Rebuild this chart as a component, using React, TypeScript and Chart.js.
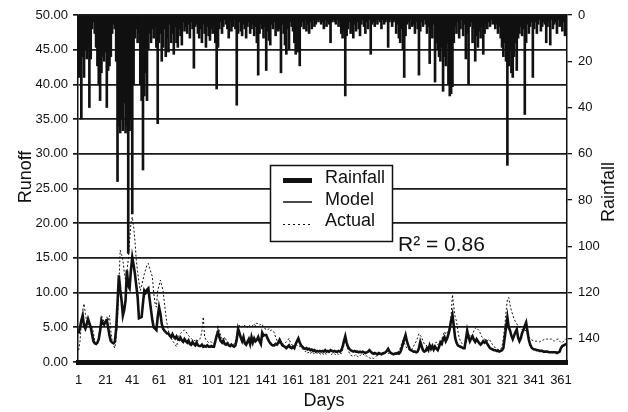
import React, { useEffect, useRef } from "react";
import { Chart, registerables } from "chart.js";

Chart.register(...registerables);

const FONT = "'Liberation Sans', Arial, sans-serif";

const days: number[] = Array.from({ length: 365 }, (_, i) => i + 1);
const tickDays = [1, 21, 41, 61, 81, 101, 121, 141, 161, 181, 201, 221, 241, 261, 281, 301, 321, 341, 361];
const rainfallTicks = [0, 20, 40, 60, 80, 100, 120, 140];

const rainfall = [
  27, 12, 45, 18, 27, 15, 19, 14, 40, 19,
  6, 3, 8, 14, 22, 30, 37, 25, 18, 20,
  16, 40, 24, 22, 18, 8, 4, 6, 20, 72,
  48, 51, 45, 50, 38, 51, 48, 103, 50, 45,
  86, 30, 10, 6, 12, 8, 30, 37, 67, 35,
  25, 37, 15, 8, 12, 6, 10, 5, 14, 47,
  12, 8, 20, 14, 6, 18, 10, 16, 4, 12,
  8, 17, 5, 12, 14, 6, 9, 13, 3, 7,
  5, 8, 4, 10, 3, 6, 23, 5, 4, 8,
  10, 6, 12, 4, 8, 14, 5, 9, 11, 6,
  8, 4, 12, 32, 14, 6, 3, 8, 5, 2,
  4, 6, 10, 3, 7, 5, 2, 6, 39, 8,
  3, 7, 9, 4, 6, 10, 5, 3, 8, 6,
  4, 9, 5, 12, 26, 8, 4, 6, 10, 5,
  24, 7, 11, 13, 4, 6, 3, 9, 5, 7,
  6, 25, 4, 8, 13, 17, 6, 15, 3, 5,
  7, 12, 17, 14, 16, 22, 5, 3, 6, 2,
  7, 4, 8, 3, 6, 2, 5, 4, 2, 3,
  2, 4, 3, 6, 2, 5, 3, 4, 12, 3,
  2, 3, 4, 2, 5, 3, 8, 10, 7, 35,
  9, 6, 3, 8, 5, 10, 4, 7, 3, 6,
  9, 4, 2, 5, 8, 3, 6, 2, 17, 4,
  3, 5, 2, 4, 2, 3, 6, 2, 4, 3,
  2, 14, 3, 2, 5, 3, 2, 8, 4, 10,
  12, 6, 15, 27, 9, 4, 3, 6, 2, 5,
  4, 8, 3, 6, 26, 7, 3, 5, 2, 4,
  8, 5, 21, 6, 10, 4, 29, 12, 15, 18,
  20, 14, 33, 18, 22, 12, 30, 35, 34, 31,
  12, 5, 8, 3, 10, 6, 2, 9, 4, 19,
  8, 30, 5, 3, 12, 6, 20, 9, 14, 7,
  10, 5, 17, 8, 4, 6, 3, 5, 2, 4,
  3, 6, 4, 8, 5, 10, 14, 18, 12, 20,
  65, 22, 15, 25, 27, 18, 12, 24, 10, 8,
  5, 9, 6, 43, 12, 4, 8, 5, 3, 27,
  6, 3, 8, 4, 2, 7, 5, 3, 4, 12,
  5, 3, 13, 2, 6, 4, 3, 8, 2, 5,
  4, 7, 3, 9, 5,
];

const model = [
  4.1, 5.0, 6.0, 6.7, 5.2, 4.8, 5.5, 6.2, 5.6, 5.0,
  4.0, 3.0, 2.7, 2.6, 2.8, 3.3, 4.5, 6.0, 5.6, 5.4,
  5.8, 6.0, 5.0, 3.8, 3.0, 2.8, 2.7, 2.9, 4.8, 8.5,
  12.5, 10.5, 8.9, 6.7, 7.5, 8.9, 13.2, 11.0, 10.6, 13.2,
  15.1, 14.0, 12.7, 11.0, 9.4, 6.3, 6.4, 6.5, 8.5, 10.3,
  10.0, 10.4, 10.6, 9.0, 7.5, 6.0, 5.0, 4.8, 4.6, 6.5,
  7.9, 7.0, 5.5, 4.8, 4.5, 4.3, 4.1, 4.1, 3.8, 3.6,
  4.0, 3.6, 3.4, 3.7, 3.3, 3.2, 3.5, 3.1, 2.9, 3.3,
  3.0, 2.8, 3.1, 2.6, 2.5, 2.9, 2.6, 2.4, 2.8, 2.4,
  2.3, 2.3, 2.5, 2.2, 2.3, 2.2, 2.4, 2.2, 2.2, 2.3,
  2.2, 2.2, 3.0, 3.8, 4.3, 3.6, 3.0, 2.8, 3.1, 2.6,
  2.5, 2.7, 2.4, 2.3, 2.5, 2.3, 2.2, 2.4, 3.2, 4.8,
  4.2, 3.5, 3.0, 3.6, 2.7, 2.5, 2.9, 3.3, 2.6, 3.6,
  2.8, 3.4, 3.0, 3.2, 3.6, 3.0, 2.6, 4.2, 3.8, 3.9,
  3.9, 3.4, 3.0, 2.7, 2.5, 2.4, 2.4, 2.6, 2.5, 2.8,
  3.2, 2.8, 2.4, 2.3, 2.2, 2.0, 2.2, 2.4, 2.1, 2.0,
  2.2, 2.0, 2.6, 3.0, 3.4, 2.8, 2.4, 2.2, 2.0, 1.9,
  2.0, 1.8, 1.9, 1.7, 1.8, 1.6, 1.7, 1.5, 1.6, 1.5,
  1.6, 1.5, 1.6, 1.5, 1.7, 1.5, 1.6, 1.5, 1.7, 1.6,
  1.5, 1.6, 1.5, 1.5, 1.6, 1.5, 1.7, 2.2, 3.0, 3.7,
  2.8, 2.2, 1.9, 1.7, 1.6, 1.5, 1.6, 1.5, 1.5, 1.4,
  1.5, 1.4, 1.5, 1.4, 1.3, 1.4, 1.5, 1.7, 1.5, 1.3,
  1.2, 1.3, 1.2, 1.1, 1.3, 1.2, 1.1, 1.2, 1.3, 1.4,
  1.6, 1.9, 1.5, 1.3, 1.2, 1.1, 1.2, 1.2, 1.3, 1.2,
  1.4, 1.9, 2.6, 3.3, 3.9, 3.0, 2.4, 1.9, 1.7, 1.6,
  1.5, 1.5, 1.4, 1.5, 2.0, 2.9, 2.3, 1.7, 1.5, 1.6,
  2.0, 1.7, 2.4, 1.9, 2.3, 1.8, 2.2, 1.9, 1.7, 2.2,
  2.8, 2.6, 3.3, 3.6, 3.0, 3.4, 4.0, 4.8, 6.0, 6.8,
  5.2, 3.5, 2.8, 2.4, 2.3, 2.2, 2.1, 2.0, 2.0, 3.2,
  4.5, 3.6, 3.0, 3.4, 3.7, 3.2, 2.9, 3.3, 3.0, 2.7,
  2.5, 2.7, 3.0, 2.8, 3.0, 2.6, 2.3, 2.0, 1.9, 1.8,
  1.7, 1.7, 1.6, 1.6, 1.5, 1.6, 1.7, 2.0, 3.5, 5.0,
  6.4, 5.0, 4.5, 3.8, 3.3, 3.8, 4.3, 4.7, 3.5, 3.0,
  3.4, 4.2, 4.6, 5.2, 5.7, 4.4, 3.2, 2.5, 2.1, 1.9,
  1.8, 1.8, 1.7, 1.7, 1.6, 1.6, 1.6, 1.5, 1.5, 1.5,
  1.5, 1.4, 1.4, 1.4, 1.4, 1.4, 1.4, 1.3, 1.4, 1.5,
  2.0, 2.3, 2.4, 2.5, 2.6,
];

const actual = [
  1.7, 3.0, 5.5, 7.5, 8.4, 7.0, 5.8, 5.5, 5.3, 5.2,
  5.0, 4.2, 3.0, 2.8, 2.6, 3.5, 5.0, 6.7, 6.2, 5.8,
  6.0, 6.5, 6.0, 6.7, 4.5, 3.0, 2.4, 2.0, 3.5, 6.0,
  11.0, 16.1, 15.5, 14.7, 13.0, 11.8, 13.0, 14.7, 17.5, 20.0,
  20.9, 19.5, 17.5, 14.7, 13.0, 11.5, 10.3, 11.0, 11.8, 12.7,
  13.3, 14.0, 14.2, 13.5, 12.9, 12.3, 10.0, 8.5, 7.9, 10.3,
  11.0, 11.8, 11.0, 10.3, 8.5, 6.8, 5.5, 4.5, 3.8, 3.4,
  3.1, 2.8, 2.5, 2.2, 3.0, 3.8, 4.1, 4.3, 4.5, 4.6,
  4.4, 4.1, 3.8, 3.6, 3.4, 3.2, 3.1, 3.1, 3.3, 3.0,
  3.2, 3.5, 4.5, 6.5, 3.6, 3.2, 3.0, 2.8, 2.9, 2.9,
  2.7, 2.6, 3.0, 4.0, 5.3, 4.5, 3.8, 3.4, 3.2, 3.6,
  3.2, 2.9, 2.7, 2.5, 2.6, 2.4, 2.6, 3.0, 4.0, 4.8,
  5.3, 5.0, 5.2, 5.0, 5.3, 5.1, 5.0, 5.3, 5.2, 5.0,
  5.3, 5.5, 5.2, 5.6, 5.5, 5.3, 5.5, 5.4, 5.0, 4.8,
  4.7, 4.6, 4.8, 4.5, 4.6, 4.5, 4.2, 3.6, 3.1, 2.8,
  2.6, 3.0, 2.8, 2.5, 2.7, 2.9, 3.1, 3.4, 2.8, 2.5,
  2.4, 2.2, 2.6, 2.4, 2.2, 2.3, 2.0, 1.9, 1.7, 1.5,
  1.6, 1.3, 1.4, 1.2, 1.5, 1.3, 1.2, 1.4, 1.2, 1.3,
  1.2, 1.1, 1.3, 1.0, 1.2, 1.1, 1.3, 1.4, 1.2, 1.1,
  1.3, 1.2, 1.0, 1.2, 1.1, 1.3, 1.2, 1.7, 2.4, 2.9,
  2.5, 1.8, 1.3, 1.0, 0.9, 0.8, 0.9, 1.1, 0.8, 0.7,
  0.9, 1.1, 1.2, 1.0, 0.8, 0.9, 0.7, 0.6, 0.5, 0.6,
  0.5, 0.6, 0.8, 1.0, 1.2, 1.1, 1.3, 1.4, 1.2, 1.3,
  1.4, 1.2, 1.3, 1.1, 1.2, 1.3, 1.2, 1.4, 1.3, 1.6,
  2.0, 2.6, 3.1, 2.8, 2.3, 2.0, 1.8, 1.7, 1.6, 1.9,
  2.3, 2.6, 3.0, 3.5, 4.1, 3.8, 3.6, 3.0, 2.6, 2.5,
  2.3, 2.1, 2.2, 2.0, 2.3, 2.1, 2.6, 2.9, 2.5, 2.7,
  3.0, 3.3, 3.8, 4.4, 4.0, 4.2, 4.6, 5.1, 6.6, 9.7,
  8.0, 6.5, 5.9, 4.5, 3.5, 3.0, 2.7, 2.5, 2.4, 2.6,
  3.2, 4.2, 3.8, 3.6, 4.0, 4.5, 4.8, 5.0, 4.7, 4.5,
  4.0, 3.6, 3.4, 3.3, 3.2, 3.0, 3.3, 3.1, 2.8, 2.5,
  2.3, 2.0, 1.9, 1.8, 1.8, 1.8, 2.2, 3.5, 5.0, 7.2,
  9.0, 9.3, 8.2, 7.4, 6.8, 6.2, 5.8, 5.5, 5.2, 5.0,
  4.8, 4.6, 4.5, 4.6, 4.5, 4.0, 3.6, 3.3, 3.2, 3.1,
  3.0, 3.0, 3.0, 3.0, 2.9, 3.0, 3.1, 3.2, 3.3, 3.3,
  3.3, 3.2, 3.3, 3.3, 3.1, 3.0, 3.2, 3.3, 3.3, 3.0,
  2.8, 2.8, 3.0, 3.2, 3.4,
];

const INK = "#111111";

const overlayPlugin = {
  id: "overlay",
  afterDraw(chart: any) {
    const ctx: CanvasRenderingContext2D = chart.ctx;
    ctx.save();
    // legend box
    ctx.fillStyle = "#ffffff";
    ctx.fillRect(270, 165, 122, 76);
    ctx.strokeStyle = INK;
    ctx.lineWidth = 1.5;
    ctx.strokeRect(270.5, 165.5, 122, 76);
    // samples
    ctx.fillStyle = INK;
    ctx.fillRect(283, 178, 29, 5);
    ctx.beginPath();
    ctx.lineWidth = 1.5;
    ctx.moveTo(283, 202);
    ctx.lineTo(312, 202);
    ctx.stroke();
    ctx.beginPath();
    ctx.lineWidth = 1;
    ctx.setLineDash([2, 3]);
    ctx.moveTo(283, 224.5);
    ctx.lineTo(312, 224.5);
    ctx.stroke();
    ctx.setLineDash([]);
    // legend text
    ctx.font = `18px ${FONT}`;
    ctx.textAlign = "left";
    ctx.textBaseline = "middle";
    ctx.fillText("Rainfall", 325, 178);
    ctx.fillText("Model", 325, 200);
    ctx.fillText("Actual", 325, 221);
    // R2
    ctx.font = `21px ${FONT}`;
    ctx.textBaseline = "alphabetic";
    ctx.fillText("R\u00B2 = 0.86", 398, 251);
    // axis titles
    ctx.font = `18px ${FONT}`;
    ctx.textAlign = "center";
    ctx.textBaseline = "middle";
    ctx.fillText("Days", 324, 401);
    ctx.save();
    ctx.translate(26, 177);
    ctx.rotate(-Math.PI / 2);
    ctx.fillText("Runoff", 0, 0);
    ctx.restore();
    ctx.save();
    ctx.translate(609, 192);
    ctx.rotate(-Math.PI / 2);
    ctx.fillText("Rainfall", 0, 0);
    ctx.restore();
    ctx.restore();
  },
};

export default function App() {
  const ref = useRef<HTMLCanvasElement | null>(null);

  useEffect(() => {
    if (!ref.current) return;
    Chart.defaults.font.family = FONT;
    const chart = new Chart(ref.current, {
      type: "bar",
      data: {
        labels: days.map(String),
        datasets: [
          {
            type: "line",
            label: "Model",
            data: model,
            yAxisID: "y",
            borderColor: INK,
            borderWidth: 2.6,
            pointRadius: 0,
            tension: 0,
            order: 0,
          } as any,
          {
            type: "line",
            label: "Actual",
            data: actual,
            yAxisID: "y",
            borderColor: INK,
            borderWidth: 1,
            borderDash: [2, 2],
            pointRadius: 0,
            tension: 0,
            order: 1,
          } as any,
          {
            type: "bar",
            label: "Rainfall",
            data: rainfall,
            yAxisID: "y1",
            backgroundColor: "#111111",
            borderWidth: 0,
            barThickness: 2,
            order: 2,
          } as any,
        ],
      },
      options: {
        responsive: false,
        animation: false,
        layout: { padding: { top: 15, left: 0, right: 0, bottom: 0 } },
        plugins: {
          legend: { display: false },
          tooltip: { enabled: false },
        },
        scales: {
          x: {
            type: "category",
            offset: true,
            grid: { display: false, drawTicks: false },
            border: { display: true, color: INK, width: 5 },
            ticks: {
              autoSkip: false,
              maxRotation: 0,
              minRotation: 0,
              padding: 11,
              color: INK,
              font: { size: 13, family: FONT },
              callback: (_v: any, i: number) =>
                tickDays.includes(days[i]) ? String(days[i]) : null,
            },
            afterFit: (s: any) => {
              s.height = 50;
            },
          },
          y: {
            position: "left",
            min: 0,
            max: 50,
            ticks: {
              stepSize: 5,
              padding: 5,
              color: INK,
              font: { size: 13, family: FONT },
              callback: (v: any) => Number(v).toFixed(2),
            },
            grid: { color: "#1a1a1a", lineWidth: 1.7, tickLength: 5, drawTicks: true },
            border: { color: INK, width: 1.5 },
            afterFit: (s: any) => {
              s.width = 78;
            },
          },
          y1: {
            position: "right",
            reverse: true,
            min: 0,
            max: 150,
            ticks: {
              stepSize: 20,
              padding: 6,
              color: INK,
              font: { size: 13, family: FONT },
            },
            afterBuildTicks: (s: any) => {
              s.ticks = rainfallTicks.map((v) => ({ value: v }));
            },
            grid: { drawOnChartArea: false, color: INK, tickLength: 5, lineWidth: 1.3 },
            border: { color: INK, width: 1.5 },
            afterFit: (s: any) => {
              s.width = 61;
            },
          },
        },
      } as any,
      plugins: [overlayPlugin],
    });
    return () => chart.destroy();
  }, []);

  return (
    <div style={{ position: "absolute", left: 0, top: 0, width: 628, height: 412, background: "#fff" }}>
      <canvas ref={ref} width={628} height={412} style={{ width: 628, height: 412 }} />
    </div>
  );
}
